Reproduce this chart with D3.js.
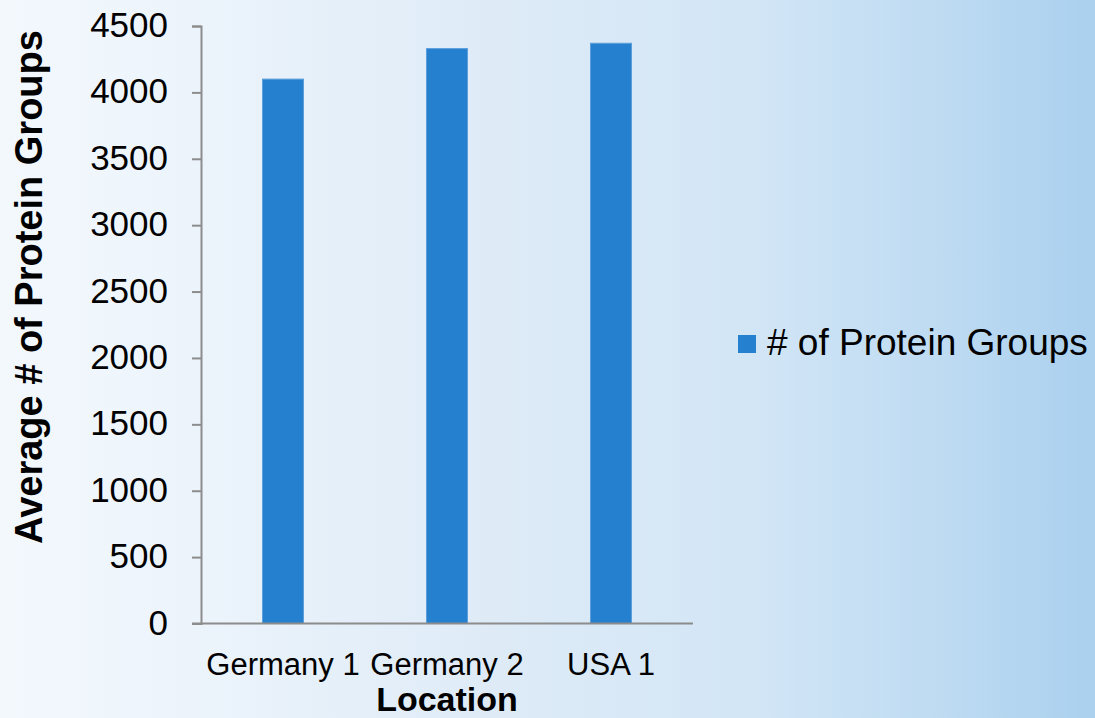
<!DOCTYPE html>
<html>
<head>
<meta charset="utf-8">
<script src="https://cdn.jsdelivr.net/npm/d3@7"></script>
<style>
  html, body { margin: 0; padding: 0; overflow: hidden; }
  svg { display: block; }
  text { font-family: Arial, "Liberation Sans", sans-serif; fill: #000; }
</style>
</head>
<body>
<script>
// Average number of protein groups identified per location
const locations = ["Germany 1", "Germany 2", "USA 1"];
const proteinGroups = [4100, 4330, 4370];
const yTicks = [0, 500, 1000, 1500, 2000, 2500, 3000, 3500, 4000, 4500];
const seriesName = "# of Protein Groups";
const xTitle = "Location";
const yTitle = "Average # of Protein Groups";

const W = 1095, H = 718;
const svg = d3.select("body").append("svg").attr("width", W).attr("height", H);

// Light-to-blue horizontal background
const defs = svg.append("defs");
const grad = defs.append("linearGradient").attr("id", "bg").attr("x1", 0).attr("x2", 1).attr("y1", 0).attr("y2", 0);
[[0, "#f3f8fd"], [0.2, "#ebf3fb"], [0.45, "#deebf7"], [0.68, "#d3e6f6"], [0.86, "#bedbf2"], [1, "#aad0ee"]]
  .forEach(([o, c]) => grad.append("stop").attr("offset", o).attr("stop-color", c));
svg.append("rect").attr("width", W).attr("height", H).attr("fill", "url(#bg)");

const plot = { left: 201, right: 693, top: 26, bottom: 623.5 };

const x = d3.scaleBand().domain(locations).range([plot.left, plot.right])
  .paddingInner(0.75).paddingOuter(0.375);
const xCat = d3.scaleBand().domain(locations).range([plot.left, plot.right]);
const y = d3.scaleLinear().domain([0, 4500]).range([plot.bottom, plot.top]);

const axisColor = "#8c8c8c";

// Bars
svg.append("g").selectAll("rect").data(locations).join("rect")
  .attr("x", d => x(d))
  .attr("y", (d, i) => y(proteinGroups[i]))
  .attr("width", x.bandwidth())
  .attr("height", (d, i) => y(0) - y(proteinGroups[i]))
  .attr("fill", "#2680d0")
  .attr("stroke", "#5c9fdb")
  .attr("stroke-width", 1);

// Y axis
const yAxis = d3.axisLeft(y).tickValues(yTicks).tickSize(9).tickPadding(24).tickFormat(d3.format("d"));
const gy = svg.append("g").attr("transform", `translate(${plot.left},0)`).call(yAxis);
gy.select(".domain").attr("stroke", axisColor).attr("stroke-width", 2);
gy.selectAll(".tick line").attr("stroke", axisColor).attr("stroke-width", 2);
gy.selectAll(".tick text").attr("font-size", 35).attr("font-family", "Arial, 'Liberation Sans', sans-serif")
  .attr("fill", "#000").attr("dy", "0.3em");

// X axis (no tick marks, line extends to the left tick)
const xAxis = d3.axisBottom(xCat).tickSize(0).tickPadding(29);
const gx = svg.append("g").attr("transform", `translate(0,${plot.bottom})`).call(xAxis);
gx.select(".domain").remove();
gx.append("line").attr("x1", plot.left - 9).attr("x2", plot.right).attr("y1", 0).attr("y2", 0)
  .attr("stroke", axisColor).attr("stroke-width", 2);
gx.selectAll(".tick text").attr("font-size", 31).attr("font-family", "Arial, 'Liberation Sans', sans-serif")
  .attr("fill", "#000");

// Axis titles
svg.append("text").attr("x", (plot.left + plot.right) / 2).attr("y", 711)
  .attr("text-anchor", "middle").attr("font-weight", "bold").attr("font-size", 34).text(xTitle);
svg.append("text").attr("transform", `translate(42,287) rotate(-90)`)
  .attr("text-anchor", "middle").attr("font-weight", "bold").attr("font-size", 38).text(yTitle);

// Legend
const lg = svg.append("g").attr("transform", "translate(738,335)");
lg.append("rect").attr("width", 18).attr("height", 18).attr("fill", "#2680d0");
lg.append("text").attr("x", 29).attr("y", 20).attr("font-size", 37).text(seriesName);
</script>
</body>
</html>
